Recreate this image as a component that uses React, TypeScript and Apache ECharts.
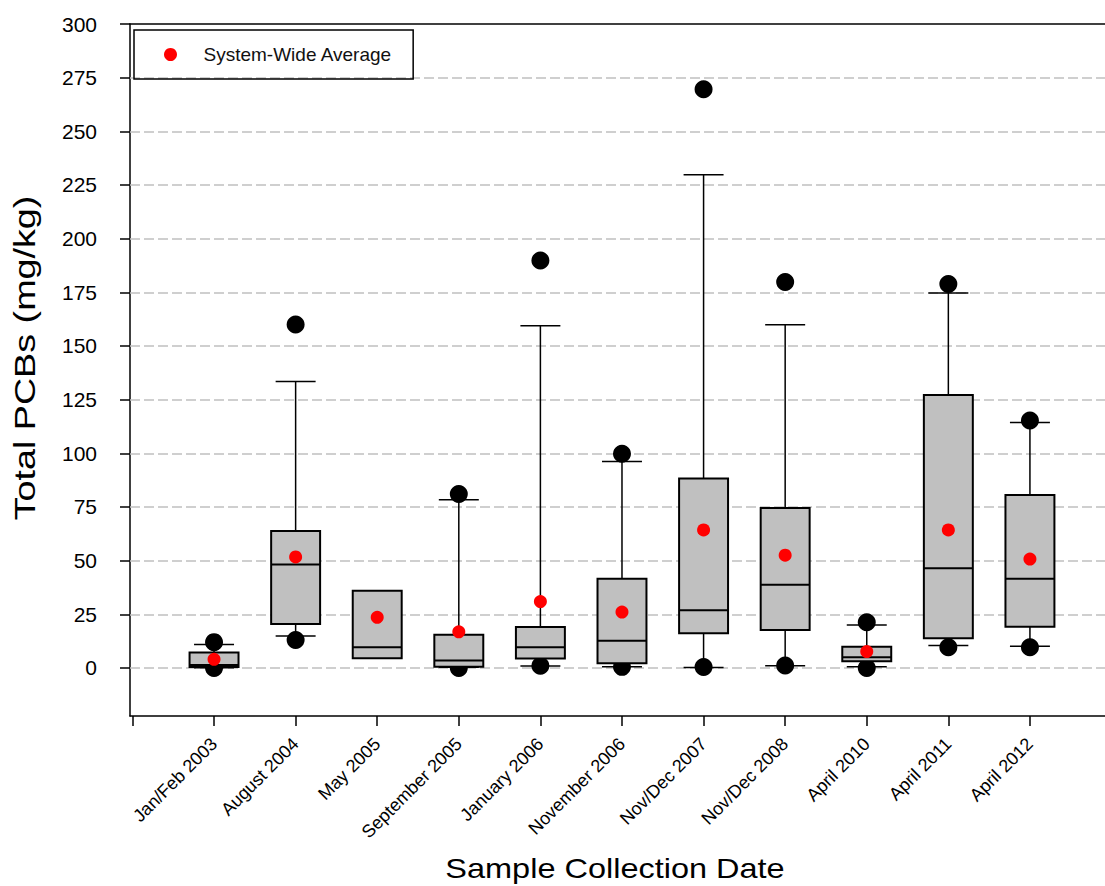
import React, { useEffect, useRef } from 'react';
import * as echarts from 'echarts';

const categories = [
  'Jan/Feb 2003', 'August 2004', 'May 2005', 'September 2005', 'January 2006',
  'November 2006', 'Nov/Dec 2007', 'Nov/Dec 2008', 'April 2010', 'April 2011', 'April 2012',
];
const whiskerLow: (number | null)[] = [0.1, 14.9, null, 0.3, 0.9, 0.5, 0.2, 1.0, 0.6, 10.4, 10.1];
const q1 = [0.4, 20.5, 4.5, 0.6, 4.4, 2.2, 16.2, 17.7, 3.1, 13.8, 19.2];
const medians = [1.4, 48.2, 9.6, 3.4, 9.6, 12.7, 26.9, 38.7, 5.0, 46.4, 41.5];
const q3 = [7.2, 63.8, 36.0, 15.4, 19.1, 41.5, 88.2, 74.5, 9.9, 127.2, 80.6];
const whiskerHigh: (number | null)[] = [10.9, 133.4, null, 78.3, 159.4, 96.2, 229.8, 159.9, 20.0, 174.7, 114.3];
const outliersLow: (number | null)[] = [0, 13.0, null, 0, 1.0, 0.5, 0.4, 1.1, 0, 9.6, 9.6];
const outliersHigh: (number | null)[] = [12.0, 160.0, null, 81.0, 189.8, 99.8, 269.6, 179.8, 21.3, 178.9, 115.3];
const averages = [4.0, 51.7, 23.6, 16.8, 30.9, 26.0, 64.3, 52.5, 7.6, 64.3, 50.7];
const yTicks = [0, 25, 50, 75, 100, 125, 150, 175, 200, 225, 250, 275, 300];
const gridValues = [0, 25, 50, 75, 100, 125, 150, 175, 200, 225, 250, 275];
const xTicks = [0, 1, 2, 3, 4, 5, 6, 7, 8, 9, 10, 11];
const xLabelValues = [1, 2, 3, 4, 5, 6, 7, 8, 9, 10, 11];

const FONT = '"Liberation Sans", Arial, Helvetica, sans-serif';

export default function App() {
  const ref = useRef<HTMLDivElement>(null);
  useEffect(() => {
    if (!ref.current) return;
    const chart = echarts.init(ref.current, undefined, { renderer: 'svg' });

    const outlierData: number[][] = [];
    categories.forEach((_, i) => {
      if (outliersLow[i] != null) outlierData.push([i + 1, outliersLow[i] as number]);
      if (outliersHigh[i] != null) outlierData.push([i + 1, outliersHigh[i] as number]);
    });
    const avgData = averages.map((v, i) => [i + 1, v]);
    const boxData = categories.map((_, i) => [i + 1, q1[i], q3[i]]);

    const axisLineStyle = { color: '#000', width: 1.5 };

    const option: any = {
      animation: false,
      grid: { left: 130, top: 24, right: 0, bottom: 170 },
      legend: {
        data: ['System-Wide Average'],
        left: 134,
        top: 30,
        orient: 'horizontal',
        padding: [15, 21, 15, 30],
        itemWidth: 56,
        itemHeight: 13,
        icon: 'circle',
        borderColor: '#000',
        borderWidth: 1.5,
        borderRadius: 0,
        selectedMode: false,
        textStyle: { fontSize: 19, fontFamily: FONT, color: '#111', lineHeight: 19 },
      },
      xAxis: [
        {
          type: 'value',
          min: -0.03,
          max: 11.92,
          position: 'bottom',
          axisLine: { show: true, onZero: false, lineStyle: axisLineStyle },
          axisTick: { show: true, customValues: xTicks, length: 10, lineStyle: axisLineStyle },
          axisLabel: {
            customValues: xLabelValues,
            formatter: (v: number) => categories[Math.round(v) - 1] || '',
            rotate: 45,
            margin: 25,
            fontSize: 18,
            fontFamily: FONT,
            color: '#000',
          },
          splitLine: { show: false },
        },
        {
          type: 'value',
          min: -0.03,
          max: 11.92,
          position: 'top',
          axisLine: { show: true, onZero: false, lineStyle: axisLineStyle },
          axisTick: { show: false },
          axisLabel: { show: false },
          splitLine: { show: false },
        },
      ],
      yAxis: {
        type: 'value',
        min: -22.4,
        max: 300,
        axisLine: { show: true, onZero: false, lineStyle: axisLineStyle },
        axisTick: { show: true, customValues: yTicks, length: 10, lineStyle: axisLineStyle },
        axisLabel: { customValues: yTicks, margin: 33, fontSize: 21, fontFamily: FONT, color: '#000' },
        splitLine: { show: false },
      },
      graphic: [
        {
          type: 'text',
          x: 615,
          y: 868,
          scaleX: 1.16,
          style: {
            text: 'Sample Collection Date',
            fontSize: 28,
            fontFamily: FONT,
            fill: '#000',
            align: 'center',
            verticalAlign: 'middle',
          },
        },
        {
          type: 'text',
          x: 25,
          y: 358,
          rotation: Math.PI / 2,
          scaleX: 1.3,
          style: {
            text: 'Total PCBs (mg/kg)',
            fontSize: 29,
            fontFamily: FONT,
            fill: '#000',
            align: 'center',
            verticalAlign: 'middle',
          },
        },
      ],
      series: [
        {
          name: 'Outliers',
          type: 'scatter',
          xAxisIndex: 0,
          data: outlierData,
          symbol: 'circle',
          symbolSize: 18,
          itemStyle: { color: '#000', opacity: 1 },
          z: 2,
          silent: true,
          markLine: {
            silent: true,
            symbol: 'none',
            z: 1,
            label: { show: false },
            lineStyle: { type: [10, 4], color: '#c0c0c0', width: 1.5, opacity: 1 },
            data: gridValues.map((v) => ({ yAxis: v })),
          },
        },
        {
          name: 'Boxes',
          type: 'custom',
          xAxisIndex: 0,
          data: boxData,
          encode: { x: 0, y: [1, 2] },
          z: 3,
          silent: true,
          renderItem: (params: any, api: any) => {
            const i = params.dataIndex;
            const x = i + 1;
            const half = 0.3;
            const capHalf = 0.245;
            const c = (dx: number, v: number) => api.coord([x + dx, v]);
            const children: any[] = [];
            const lineStyle = { stroke: '#000', lineWidth: 1.5 };
            const wh = whiskerHigh[i];
            const wl = whiskerLow[i];
            if (wh != null) {
              const a = c(0, q3[i]);
              const b = c(0, wh);
              children.push({ type: 'line', shape: { x1: a[0], y1: a[1], x2: b[0], y2: b[1] }, style: lineStyle });
              const l = c(-capHalf, wh);
              const r = c(capHalf, wh);
              children.push({ type: 'line', shape: { x1: l[0], y1: l[1], x2: r[0], y2: r[1] }, style: lineStyle });
            }
            if (wl != null) {
              const a = c(0, q1[i]);
              const b = c(0, wl);
              children.push({ type: 'line', shape: { x1: a[0], y1: a[1], x2: b[0], y2: b[1] }, style: lineStyle });
              const l = c(-capHalf, wl);
              const r = c(capHalf, wl);
              children.push({ type: 'line', shape: { x1: l[0], y1: l[1], x2: r[0], y2: r[1] }, style: lineStyle });
            }
            const tl = c(-half, q3[i]);
            const br = c(half, q1[i]);
            children.push({
              type: 'rect',
              shape: { x: tl[0], y: tl[1], width: br[0] - tl[0], height: br[1] - tl[1] },
              style: { fill: '#c0c0c0', stroke: '#000', lineWidth: 2 },
            });
            const ml = c(-half, medians[i]);
            const mr = c(half, medians[i]);
            children.push({ type: 'line', shape: { x1: ml[0], y1: ml[1], x2: mr[0], y2: mr[1] }, style: { stroke: '#000', lineWidth: 2 } });
            return { type: 'group', children };
          },
        },
        {
          name: 'System-Wide Average',
          type: 'scatter',
          xAxisIndex: 0,
          data: avgData,
          symbol: 'circle',
          symbolSize: 13,
          itemStyle: { color: '#ff0000', opacity: 1 },
          z: 4,
          silent: true,
        },
      ],
    };
    chart.setOption(option);
    return () => chart.dispose();
  }, []);
  return (
    <div
      ref={ref}
      style={{ position: 'fixed', left: 0, top: 0, width: 1105, height: 886, background: '#fff' }}
    />
  );
}
